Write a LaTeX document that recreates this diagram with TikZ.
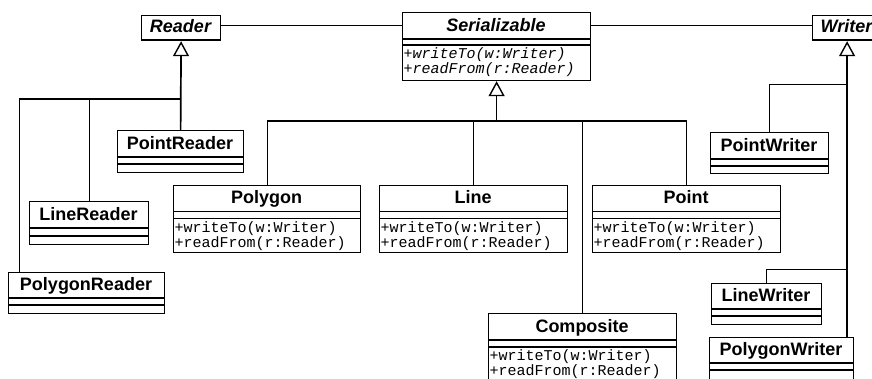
\documentclass[tikz,border=0pt]{standalone}
\usepackage{fontspec}
\setmainfont{Liberation Sans}
\setmonofont{Liberation Mono}
\usetikzlibrary{arrows.meta}

\tikzset{
  box/.style={draw, line width=1.2pt, rectangle, inner sep=0pt, anchor=north west},
  sepline/.style={line width=1.3pt},
  cname/.style={font=\fontsize{18}{20}\selectfont\bfseries, inner sep=0pt},
  meth/.style={font=\fontsize{15}{15}\selectfont\ttfamily, inner sep=0pt},
  ameth/.style={font=\fontsize{15}{15}\selectfont\ttfamily\itshape, inner sep=0pt},
  link/.style={line width=1pt},
  bus/.style={line width=1.5pt},
  trunk/.style={line width=1.7pt},
  inh/.style={trunk, -{Triangle[open, length=15pt, width=16pt, line width=1.4pt]}},
}

% id, x1, y1, x2, y2, name-bottom, attr-bottom, name
\newcommand\umlbox[8]{%
  \node[box, minimum width={(#4-#2)*1pt}, minimum height={(#5-#3)*1pt}] (#1) at (#2,#3) {};
  \draw[sepline] (#2,#6) -- (#4,#6) (#2,#7) -- (#4,#7);
  \node[cname, anchor=base] (#1-name) at ({(#2+#4)/2},{#6-8}) {#8};
}
% id, x1, attr-bottom, style
\newcommand\umlmeth[4]{%
  \node[#4, anchor=base west] (#1-m1) at (#2+1.5,#3+13.5) {+writeTo(w:Writer)};
  \node[#4, anchor=base west] (#1-m2) at (#2+1.5,#3+28.5) {+readFrom(r:Reader)};
}

\begin{document}
\begin{tikzpicture}[x=1pt,y=-1pt]
\useasboundingbox (0,0) rectangle (872,378);
\fill[white] (0,0) rectangle (872,378);
\clip (0,0) rectangle (872,378);

% abstract classes
\umlbox{Reader}{141}{15}{220}{40}{40}{40}{\itshape Reader}
\umlbox{Serializable}{402}{12}{590}{80}{39}{45}{\itshape Serializable}
\umlmeth{Serializable}{402}{45}{ameth}
\umlbox{Writer}{812}{15}{881}{40}{40}{40}{\itshape Writer}

% readers
\umlbox{PointReader}{117}{130}{243}{172}{157}{164}{PointReader}
\umlbox{LineReader}{29}{201}{148}{244}{228}{236}{LineReader}
\umlbox{PolygonReader}{8}{272}{164}{313}{298}{305}{PolygonReader}

% serializable classes
\umlbox{Polygon}{173}{185}{360}{252}{211.5}{218.5}{Polygon}
\umlmeth{Polygon}{173}{218.5}{meth}
\umlbox{Line}{379}{185}{567}{252}{211.5}{218.5}{Line}
\umlmeth{Line}{379}{218.5}{meth}
\umlbox{Point}{592}{185}{780}{252}{211.5}{218.5}{Point}
\umlmeth{Point}{592}{218.5}{meth}
\umlbox{Composite}{488}{313}{676}{382}{340}{347}{Composite}
\umlmeth{Composite}{488}{347}{meth}

% writers
\umlbox{PointWriter}{710}{132}{828}{173}{159}{166}{PointWriter}
\umlbox{LineWriter}{711}{283}{821}{324}{309}{316}{LineWriter}
\umlbox{PolygonWriter}{709}{337}{853}{385}{363}{370}{PolygonWriter}

% associations
\coordinate (ay) at (0,25);
\draw[link] (Reader.east |- ay) -- (Serializable.west |- ay);
\draw[link] (Serializable.east |- ay) -- (Writer.west |- ay);

% Reader hierarchy
\coordinate (rby) at (0,99);
\coordinate (rb) at (Reader.south |- rby);
\coordinate (prc) at ([xshift=11pt]PolygonReader.north west);
\draw[inh] (PointReader.north) -- (Reader.south);
\draw[link] (LineReader.north) -- (LineReader.north |- rb);
\draw[link] (prc) -- (prc |- rb);
\draw[bus] (prc |- rb) -- (rb);

% Serializable hierarchy
\coordinate (sby) at (0,121);
\coordinate (sb) at (Serializable.south |- sby);
\draw[inh] (sb) -- (Serializable.south);
\draw[bus] (Polygon.north |- sb) -- (Point.north |- sb);
\draw[link] (Polygon.north) -- (Polygon.north |- sb);
\draw[link] (Line.north) -- (Line.north |- sb);
\draw[link] (Point.north) -- (Point.north |- sb);
\draw[link] (Composite.north) -- (Composite.north |- sb);

% Writer hierarchy
\coordinate (pwc) at (Writer.south |- PolygonWriter.north);
\coordinate (w1y) at (0,84);
\coordinate (w2y) at (0,269);
\draw[inh] (pwc) -- (Writer.south);
\draw[link] (PointWriter.north) |- (Writer.south |- w1y);
\draw[link] (LineWriter.north) |- (Writer.south |- w2y);
\end{tikzpicture}
\end{document}
